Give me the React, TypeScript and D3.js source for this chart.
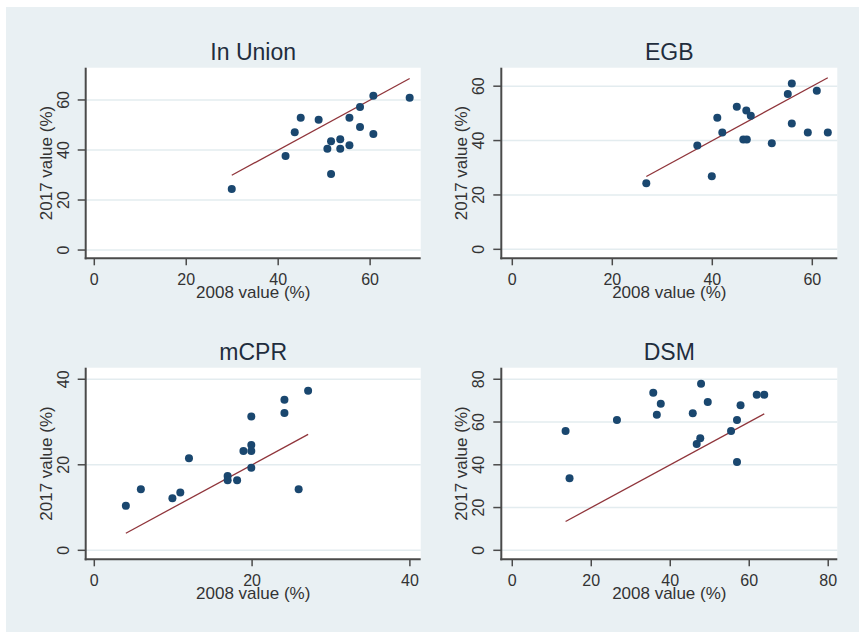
import * as d3 from 'd3';

// 2008 vs 2017 values (%) per indicator
const inUnion2008 = [29.9, 41.6, 43.6, 44.9, 48.8, 50.7, 51.5, 51.5, 53.5, 53.5, 55.5, 55.5, 57.8, 57.8, 60.7, 60.7, 68.6];
const inUnion2017 = [24.4, 37.6, 47.1, 52.9, 52.1, 40.5, 43.5, 30.4, 44.3, 40.5, 52.9, 41.9, 57.2, 49.2, 61.7, 46.4, 60.9];

const egb2008 = [26.8, 37.0, 39.9, 41.0, 42.0, 44.9, 46.2, 46.8, 46.9, 47.7, 51.9, 55.1, 55.9, 55.9, 59.1, 60.9, 63.1];
const egb2017 = [24.3, 38.2, 26.9, 48.4, 43.0, 52.4, 40.4, 51.1, 40.4, 49.1, 39.0, 57.1, 61.0, 46.3, 43.0, 58.3, 43.0];

const mcpr2008 = [4.0, 5.9, 9.9, 10.9, 12.0, 16.9, 16.9, 18.1, 18.9, 19.9, 19.9, 19.9, 19.9, 24.1, 24.1, 25.9, 27.1];
const mcpr2017 = [10.4, 14.3, 12.2, 13.5, 21.5, 17.4, 16.4, 16.4, 23.2, 31.3, 24.6, 23.2, 19.3, 35.2, 32.1, 14.3, 37.3];

const dsm2008 = [13.5, 14.5, 26.5, 35.7, 36.6, 37.6, 45.7, 46.7, 47.6, 47.8, 49.5, 55.4, 56.9, 56.9, 57.8, 61.9, 63.8];
const dsm2017 = [55.8, 33.7, 61.0, 73.7, 63.4, 68.6, 64.1, 49.7, 52.4, 77.9, 69.4, 55.8, 61.0, 41.3, 67.8, 72.8, 72.8];

const ticks0to60 = [0, 20, 40, 60];
const ticks0to40 = [0, 20, 40];
const ticks0to80 = [0, 20, 40, 60, 80];

const xTitle = '2008 value (%)';
const yTitle = '2017 value (%)';

const W = 859;
const H = 632;
const FONT = 'Arial, "Liberation Sans", sans-serif';

interface Panel {
  title: string;
  xs: number[];
  ys: number[];
  xTicks: number[];
  yTicks: number[];
  xDomain: [number, number];
  yDomain: [number, number];
  box: { left: number; right: number; top: number; bottom: number };
}

const panels: Panel[] = [
  {
    title: 'In Union', xs: inUnion2008, ys: inUnion2017, xTicks: ticks0to60, yTicks: ticks0to60,
    xDomain: [-1.87, 71.0], yDomain: [-3.3, 72.9],
    box: { left: 85.7, right: 420.7, top: 67.7, bottom: 258.3 },
  },
  {
    title: 'EGB', xs: egb2008, ys: egb2017, xTicks: ticks0to60, yTicks: ticks0to60,
    xDomain: [-2.2, 65.0], yDomain: [-3.3, 66.8],
    box: { left: 501.3, right: 837.3, top: 67.7, bottom: 258.3 },
  },
  {
    title: 'mCPR', xs: mcpr2008, ys: mcpr2017, xTicks: ticks0to40, yTicks: ticks0to40,
    xDomain: [-1.09, 41.37], yDomain: [-2.1, 42.7],
    box: { left: 85.7, right: 420.7, top: 367.7, bottom: 559.3 },
  },
  {
    title: 'DSM', xs: dsm2008, ys: dsm2017, xTicks: ticks0to80, yTicks: ticks0to80,
    xDomain: [-2.78, 82.3], yDomain: [-4.2, 85.4],
    box: { left: 501.3, right: 837.3, top: 367.7, bottom: 559.3 },
  },
];

function ScatterPanel({ p }: { p: Panel }) {
  const { left, right, top, bottom } = p.box;
  const x = d3.scaleLinear().domain(p.xDomain).range([left, right]);
  const y = d3.scaleLinear().domain(p.yDomain).range([bottom, top]);
  const [x0, x1] = d3.extent(p.xs) as [number, number];
  const fitLine = d3.line<number>().x((v) => x(v)).y((v) => y(v));
  const cx = (left + right) / 2;
  const cy = (top + bottom) / 2;

  return (
    <g>
      <rect x={left} y={top} width={right - left} height={bottom - top} fill="#ffffff" />
      {p.yTicks.map((t) => (
        <line key={'g' + t} x1={left} x2={right} y1={y(t)} y2={y(t)} stroke="#e3ecef" strokeWidth={1.5} />
      ))}
      <path d={fitLine([x0, x1]) || ''} fill="none" stroke="#90353b" strokeWidth={1.3} />
      {p.xs.map((v, i) => (
        <circle key={i} cx={x(v)} cy={y(p.ys[i])} r={4} fill="#1a476f" />
      ))}
      {/* axes */}
      <line x1={left} x2={left} y1={top} y2={bottom + 1} stroke="#4a4a4a" strokeWidth={2} />
      <line x1={left - 1} x2={right} y1={bottom} y2={bottom} stroke="#4a4a4a" strokeWidth={2} />
      {p.yTicks.map((t) => (
        <g key={'y' + t}>
          <line x1={left - 8} x2={left} y1={y(t)} y2={y(t)} stroke="#4a4a4a" strokeWidth={1.5} />
          <text
            transform={`translate(${left - 17},${y(t)}) rotate(-90)`}
            textAnchor="middle"
            fontSize={16}
            fill="#333"
          >
            {t}
          </text>
        </g>
      ))}
      {p.xTicks.map((t) => (
        <g key={'x' + t}>
          <line x1={x(t)} x2={x(t)} y1={bottom} y2={bottom + 7} stroke="#4a4a4a" strokeWidth={1.5} />
          <text x={x(t)} y={bottom + 27} textAnchor="middle" fontSize={16} fill="#333">
            {t}
          </text>
        </g>
      ))}
      <text x={cx} y={bottom + 40} textAnchor="middle" fontSize={17} fill="#333">
        {xTitle}
      </text>
      <text
        transform={`translate(${left - 34},${cy}) rotate(-90)`}
        textAnchor="middle"
        fontSize={17}
        fill="#333"
      >
        {yTitle}
      </text>
      <text x={cx} y={top - 8} textAnchor="middle" fontSize={23} fill="#1f2d3d">
        {p.title}
      </text>
    </g>
  );
}

export default function App() {
  return (
    <svg
      width={W}
      height={H}
      style={{ position: 'absolute', left: 0, top: 0, background: '#ffffff' }}
      fontFamily={FONT}
    >
      <rect x={6} y={7} width={W - 6} height={H - 7} fill="#e9f0f3" />
      {panels.map((p) => (
        <ScatterPanel key={p.title} p={p} />
      ))}
    </svg>
  );
}
